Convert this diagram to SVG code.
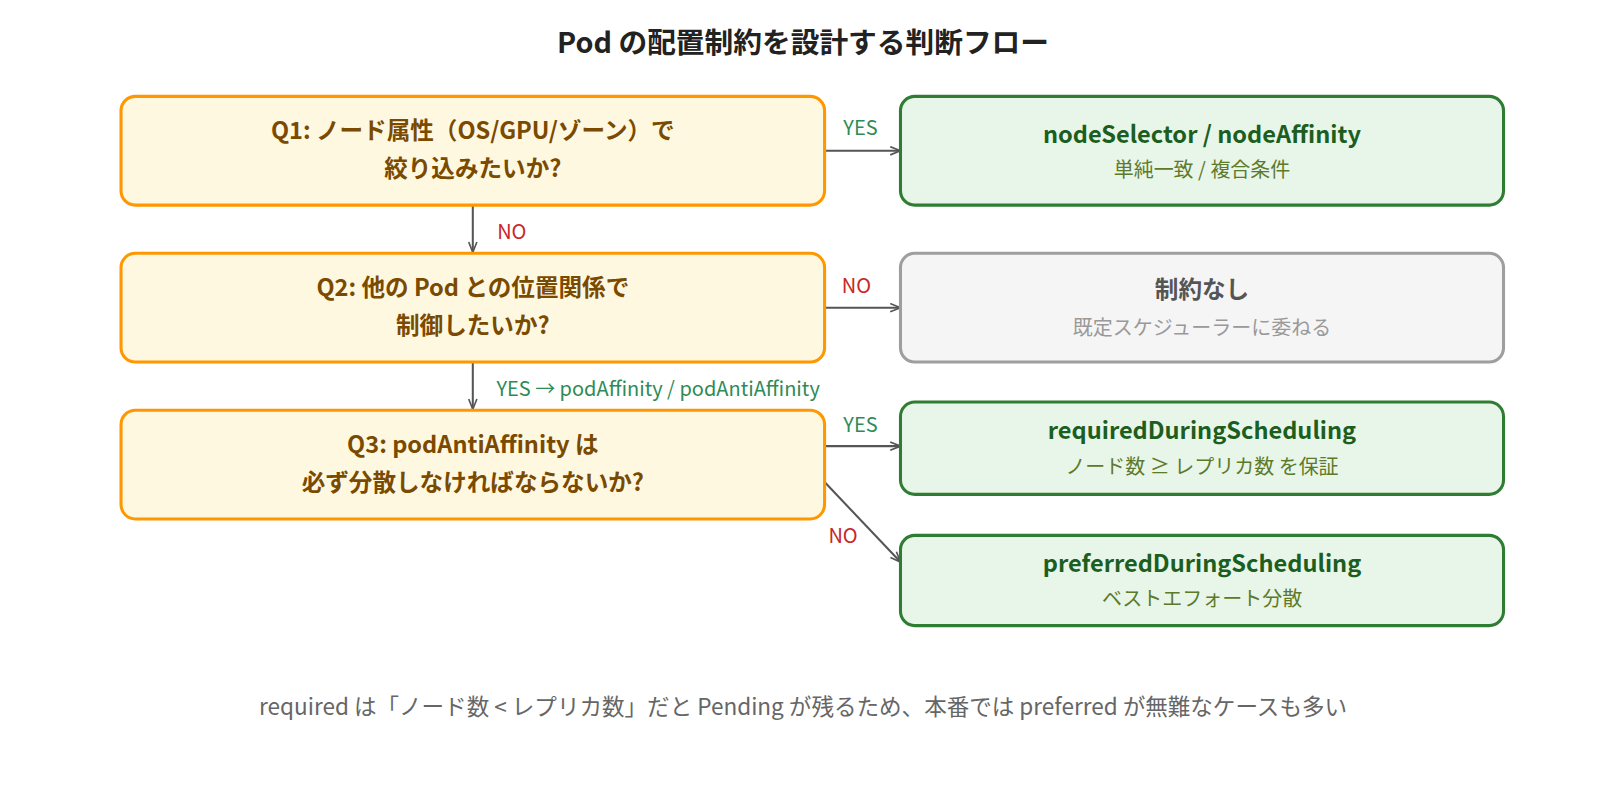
<svg xmlns="http://www.w3.org/2000/svg" width="1600" height="812" viewBox="0 0 1600 812">
<defs>
<marker id="ah" markerWidth="12" markerHeight="10" refX="11" refY="5" orient="auto" markerUnits="userSpaceOnUse"><path d="M1,1 L11,5 L1,9" fill="none" stroke="#555" stroke-width="1.6"/></marker>
<style>
text{font-family:"Noto Sans CJK JP","Noto Sans",sans-serif;text-anchor:middle}
.q{fill:#fff8e1;stroke:#ff9800;stroke-width:3}
.qt{fill:#7a4a00;font-size:23px;font-weight:bold}
.g{fill:#e8f5e9;stroke:#2e7d32;stroke-width:3}
.gt{fill:#1b5e20;font-size:23px;font-weight:bold}
.gs{fill:#5d7a2a;font-size:19.5px}
.n{fill:#f5f5f5;stroke:#9e9e9e;stroke-width:3}
.e{stroke:#555;stroke-width:2;fill:none;marker-end:url(#ah)}
.yes{fill:#2e8b57;font-size:19.5px}
.no{fill:#c62828;font-size:19.5px}
</style>
</defs>
<rect width="1600" height="812" fill="#fff"/>
<g transform="scale(1.0256)">
<text x="783" y="52" font-size="28" font-weight="bold" fill="#222">Pod の配置制約を設計する判断フロー</text>
<g id="connectors">
<path class="e" d="M804,147 H878"/><text class="yes" x="839" y="132">YES</text>
<path class="e" d="M461,200 V246"/><text class="no" x="499" y="233" >NO</text>
<path class="e" d="M804,300 H878"/><text class="no" x="835" y="286">NO</text>
<path class="e" d="M461,353 V399"/><text class="yes" x="484" y="386" style="text-anchor:start">YES → podAffinity / podAntiAffinity</text>
<path class="e" d="M804,435 H878"/><text class="yes" x="839" y="421">YES</text>
<path class="e" d="M804,470 L878,548"/><text class="no" x="822" y="529">NO</text>
</g>
<g id="q1"><rect class="q" x="118" y="94" width="686" height="106" rx="14"/><text class="qt" x="461" y="136">Q1: ノード属性（OS/GPU/ゾーン）で</text><text class="qt" x="461" y="173">絞り込みたいか?</text></g>
<g id="q2"><rect class="q" x="118" y="247" width="686" height="106" rx="14"/><text class="qt" x="461" y="289">Q2: 他の Pod との位置関係で</text><text class="qt" x="461" y="326">制御したいか?</text></g>
<g id="q3"><rect class="q" x="118" y="400" width="686" height="106" rx="14"/><text class="qt" x="461" y="442">Q3: podAntiAffinity は</text><text class="qt" x="461" y="479">必ず分散しなければならないか?</text></g>
<g id="ns"><rect class="g" x="878" y="94" width="588" height="106" rx="14"/><text class="gt" x="1172" y="139">nodeSelector / nodeAffinity</text><text class="gs" x="1172" y="173">単純一致 / 複合条件</text></g>
<g id="none"><rect class="n" x="878" y="247" width="588" height="106" rx="14"/><text x="1172" y="291" font-size="23" font-weight="bold" fill="#555">制約なし</text><text x="1172" y="327" font-size="19.5" fill="#999">既定スケジューラーに委ねる</text></g>
<g id="req"><rect class="g" x="878" y="392" width="588" height="90" rx="14"/><text class="gt" x="1172" y="428">requiredDuringScheduling</text><text class="gs" x="1172" y="462">ノード数 ≥ レプリカ数 を保証</text></g>
<g id="pref"><rect class="g" x="878" y="522" width="588" height="88" rx="14"/><text class="gt" x="1172" y="558">preferredDuringScheduling</text><text class="gs" x="1172" y="591">ベストエフォート分散</text></g>
<text x="783" y="697" font-size="22" fill="#666">required は「ノード数 &lt; レプリカ数」だと Pending が残るため、本番では preferred が無難なケースも多い</text>
</g>
</svg>
